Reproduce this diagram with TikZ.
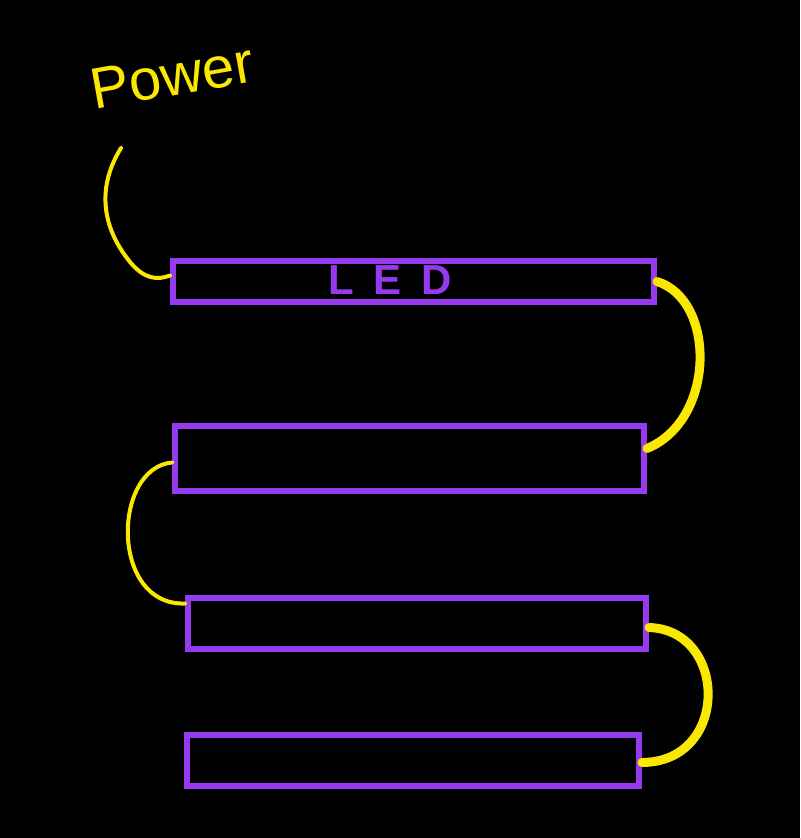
\documentclass[tikz,border=0pt]{standalone}
\usepackage{fontspec}
\setmainfont{Liberation Sans}
\definecolor{ledpurple}{RGB}{150,58,240}
\definecolor{wireyellow}{RGB}{250,232,0}
\begin{document}
\begin{tikzpicture}[x=0.5pt, y=-0.5pt,
        strip/.style = {draw=ledpurple, line width=3pt, inner sep=0pt},
         wire/.style = {draw=wireyellow, line width=2pt, line cap=round},
        thick wire/.style = {wire, line width=4.5pt}
                                ]
        % background
        \fill[black] (0,0) rectangle (800,838);
        \useasboundingbox (0,0) rectangle (800,838);
        % strips
        \node[strip, minimum width=240.5pt, minimum height=20.5pt] (s1) at (413.5,281.5) {};
        \node[strip, minimum width=234.5pt, minimum height=32.5pt] (s2) at (409.5,458.5) {};
        \node[strip, minimum width=229pt,   minimum height=25.5pt] (s3) at (417,623.5) {};
        \node[strip, minimum width=226pt,   minimum height=25.5pt] (s4) at (413,760.5) {};
        \node[text=ledpurple, font=\bfseries\fontsize{21}{21}\selectfont] (led) at (390,280)
            {L\hspace{10pt}E\hspace{10pt}D};
        % power
        \node[text=wireyellow, font=\fontsize{29}{29}\selectfont, rotate=10] (pow) at (172,76) {Power};
        \coordinate (pw) at (121,148);
        \draw[wire] (pw) .. controls (98,185) and (100,225) .. (130,262)
                         .. controls (145,280) and (158,280) .. ([yshift=3pt]s1.west);
        % wires between strips
        \draw[thick wire] (s1.east) .. controls (716,300) and (716,420) .. ([yshift=5pt]s2.east);
        \draw[wire]       ([yshift=-2pt]s2.west) .. controls (112,468) and (110,606) .. ([yshift=10pt]s3.west);
        \draw[thick wire] ([yshift=-2pt]s3.east) .. controls (728,630) and (730,762) .. ([yshift=-1pt]s4.east);
    \end{tikzpicture}
\end{document}
